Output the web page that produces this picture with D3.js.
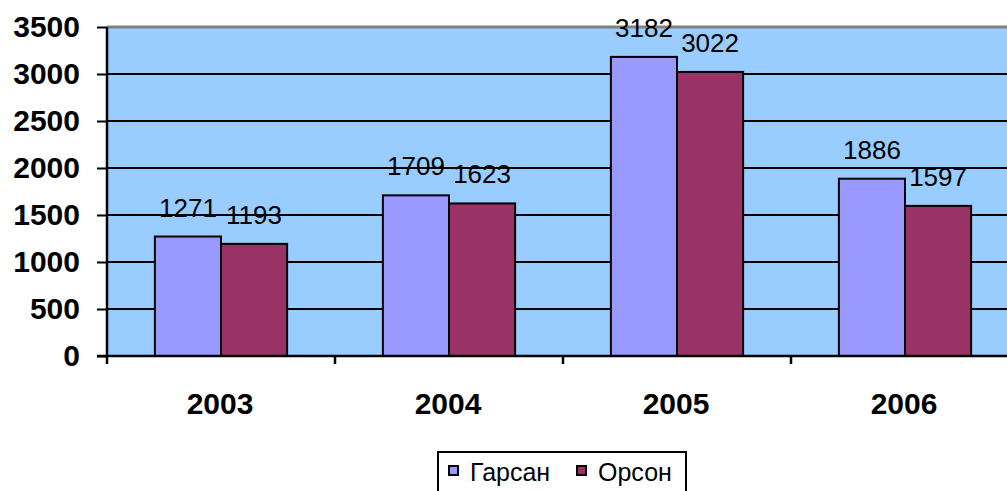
<!DOCTYPE html>
<html>
<head>
<meta charset="utf-8">
<script src="https://cdn.jsdelivr.net/npm/d3@7"></script>
<style>
  body { margin: 0; background: #fff; }
  svg { display: block; font-family: Arial, "Liberation Sans", sans-serif; }
</style>
</head>
<body>
<div id="wrapper"></div>
<script>
const years = ["2003", "2004", "2005", "2006"];
const seriesNames = ["Гарсан", "Орсон"];
const garsan = [1271, 1709, 3182, 1886];
const orson = [1193, 1623, 3022, 1597];
const yTicks = [0, 500, 1000, 1500, 2000, 2500, 3000, 3500];
const colors = ["#9999ff", "#993366"];

const dimensions = {
  width: 1007,
  height: 491,
  margin: { top: 27, right: -12, bottom: 135, left: 107 },
};
dimensions.boundedWidth = dimensions.width - dimensions.margin.left - dimensions.margin.right;
dimensions.boundedHeight = dimensions.height - dimensions.margin.top - dimensions.margin.bottom;

const svg = d3.select("#wrapper").append("svg")
  .attr("width", dimensions.width)
  .attr("height", dimensions.height);

const bounds = svg.append("g")
  .attr("transform", `translate(${dimensions.margin.left},${dimensions.margin.top})`);

const xScale = d3.scaleBand()
  .domain(years)
  .range([0, dimensions.boundedWidth])
  .paddingInner(0)
  .paddingOuter(0);

const groupWidth = xScale.bandwidth() * 0.58;
const xInner = d3.scaleBand()
  .domain(seriesNames)
  .range([(xScale.bandwidth() - groupWidth) / 2, (xScale.bandwidth() + groupWidth) / 2]);

const yScale = d3.scaleLinear()
  .domain([0, 3500])
  .range([dimensions.boundedHeight, 0]);

// plot background
bounds.append("rect")
  .attr("x", 0).attr("y", 0)
  .attr("width", dimensions.boundedWidth)
  .attr("height", dimensions.boundedHeight)
  .attr("fill", "#99ccff");

// top border
bounds.append("line")
  .attr("x1", 0).attr("x2", dimensions.boundedWidth)
  .attr("y1", 0).attr("y2", 0)
  .attr("stroke", "#808080").attr("stroke-width", 3);

// gridlines
bounds.selectAll(".grid")
  .data(yTicks.filter(d => d > 0 && d < 3500))
  .join("line")
  .attr("x1", 0).attr("x2", dimensions.boundedWidth)
  .attr("y1", d => yScale(d)).attr("y2", d => yScale(d))
  .attr("stroke", "#000").attr("stroke-width", 2);

// bars
const data = years.map((y, i) => ({ year: y, values: [garsan[i], orson[i]] }));
const groups = bounds.selectAll(".group")
  .data(data)
  .join("g")
  .attr("transform", d => `translate(${xScale(d.year)},0)`);

groups.selectAll("rect")
  .data(d => d.values.map((v, j) => ({ name: seriesNames[j], value: v, j })))
  .join("rect")
  .attr("x", d => xInner(d.name))
  .attr("y", d => yScale(d.value))
  .attr("width", xInner.bandwidth())
  .attr("height", d => dimensions.boundedHeight - yScale(d.value))
  .attr("fill", d => colors[d.j])
  .attr("stroke", "#000")
  .attr("stroke-width", 2);

groups.selectAll("text")
  .data(d => d.values.map((v, j) => ({ name: seriesNames[j], value: v })))
  .join("text")
  .attr("x", d => xInner(d.name) + xInner.bandwidth() / 2)
  .attr("y", d => yScale(d.value) - 20)
  .attr("text-anchor", "middle")
  .attr("font-size", 26)
  .attr("fill", "#000")
  .text(d => d.value);

// y axis
const yAxis = d3.axisLeft(yScale)
  .tickValues(yTicks)
  .tickSize(10)
  .tickPadding(17)
  .tickFormat(d3.format("d"));
const yAxisG = bounds.append("g").call(yAxis);
yAxisG.select(".domain").remove();
yAxisG.selectAll(".tick line").attr("stroke", "#000").attr("stroke-width", 2);
yAxisG.selectAll(".tick text")
  .attr("font-size", 30)
  .attr("font-weight", "bold")
  .attr("fill", "#000")
  .attr("font-family", "Arial, 'Liberation Sans', sans-serif");

bounds.append("line")
  .attr("x1", 0).attr("x2", 0)
  .attr("y1", 0).attr("y2", dimensions.boundedHeight + 8)
  .attr("stroke", "#000").attr("stroke-width", 2.5);

// x axis
const xAxisG = bounds.append("g")
  .attr("transform", `translate(0,${dimensions.boundedHeight})`);
xAxisG.append("line")
  .attr("x1", -10).attr("x2", dimensions.boundedWidth)
  .attr("stroke", "#000").attr("stroke-width", 2.5);
xAxisG.selectAll(".xtick")
  .data(years.slice(1))
  .join("line")
  .attr("x1", d => xScale(d)).attr("x2", d => xScale(d))
  .attr("y1", 0).attr("y2", 8)
  .attr("stroke", "#000").attr("stroke-width", 2.5);
xAxisG.selectAll(".xlabel")
  .data(years)
  .join("text")
  .attr("x", d => xScale(d) + xScale.bandwidth() / 2 - 1)
  .attr("y", 58)
  .attr("text-anchor", "middle")
  .attr("font-size", 30)
  .attr("font-weight", "bold")
  .attr("fill", "#000")
  .text(d => d);

// legend
const legend = svg.append("g").attr("transform", "translate(438,452)");
legend.append("rect")
  .attr("x", 0).attr("y", 0)
  .attr("width", 248).attr("height", 50)
  .attr("fill", "#fff")
  .attr("stroke", "#000").attr("stroke-width", 2);
const legendX = [11, 139];
const items = legend.selectAll(".item")
  .data(seriesNames)
  .join("g")
  .attr("transform", (d, i) => `translate(${legendX[i]},0)`);
items.append("rect")
  .attr("x", 0).attr("y", 14)
  .attr("width", 9).attr("height", 9)
  .attr("fill", (d, i) => colors[i])
  .attr("stroke", "#000").attr("stroke-width", 2);
items.append("text")
  .attr("x", 21).attr("y", 29)
  .attr("font-size", 25)
  .attr("fill", "#000")
  .text(d => d);
</script>
</body>
</html>
